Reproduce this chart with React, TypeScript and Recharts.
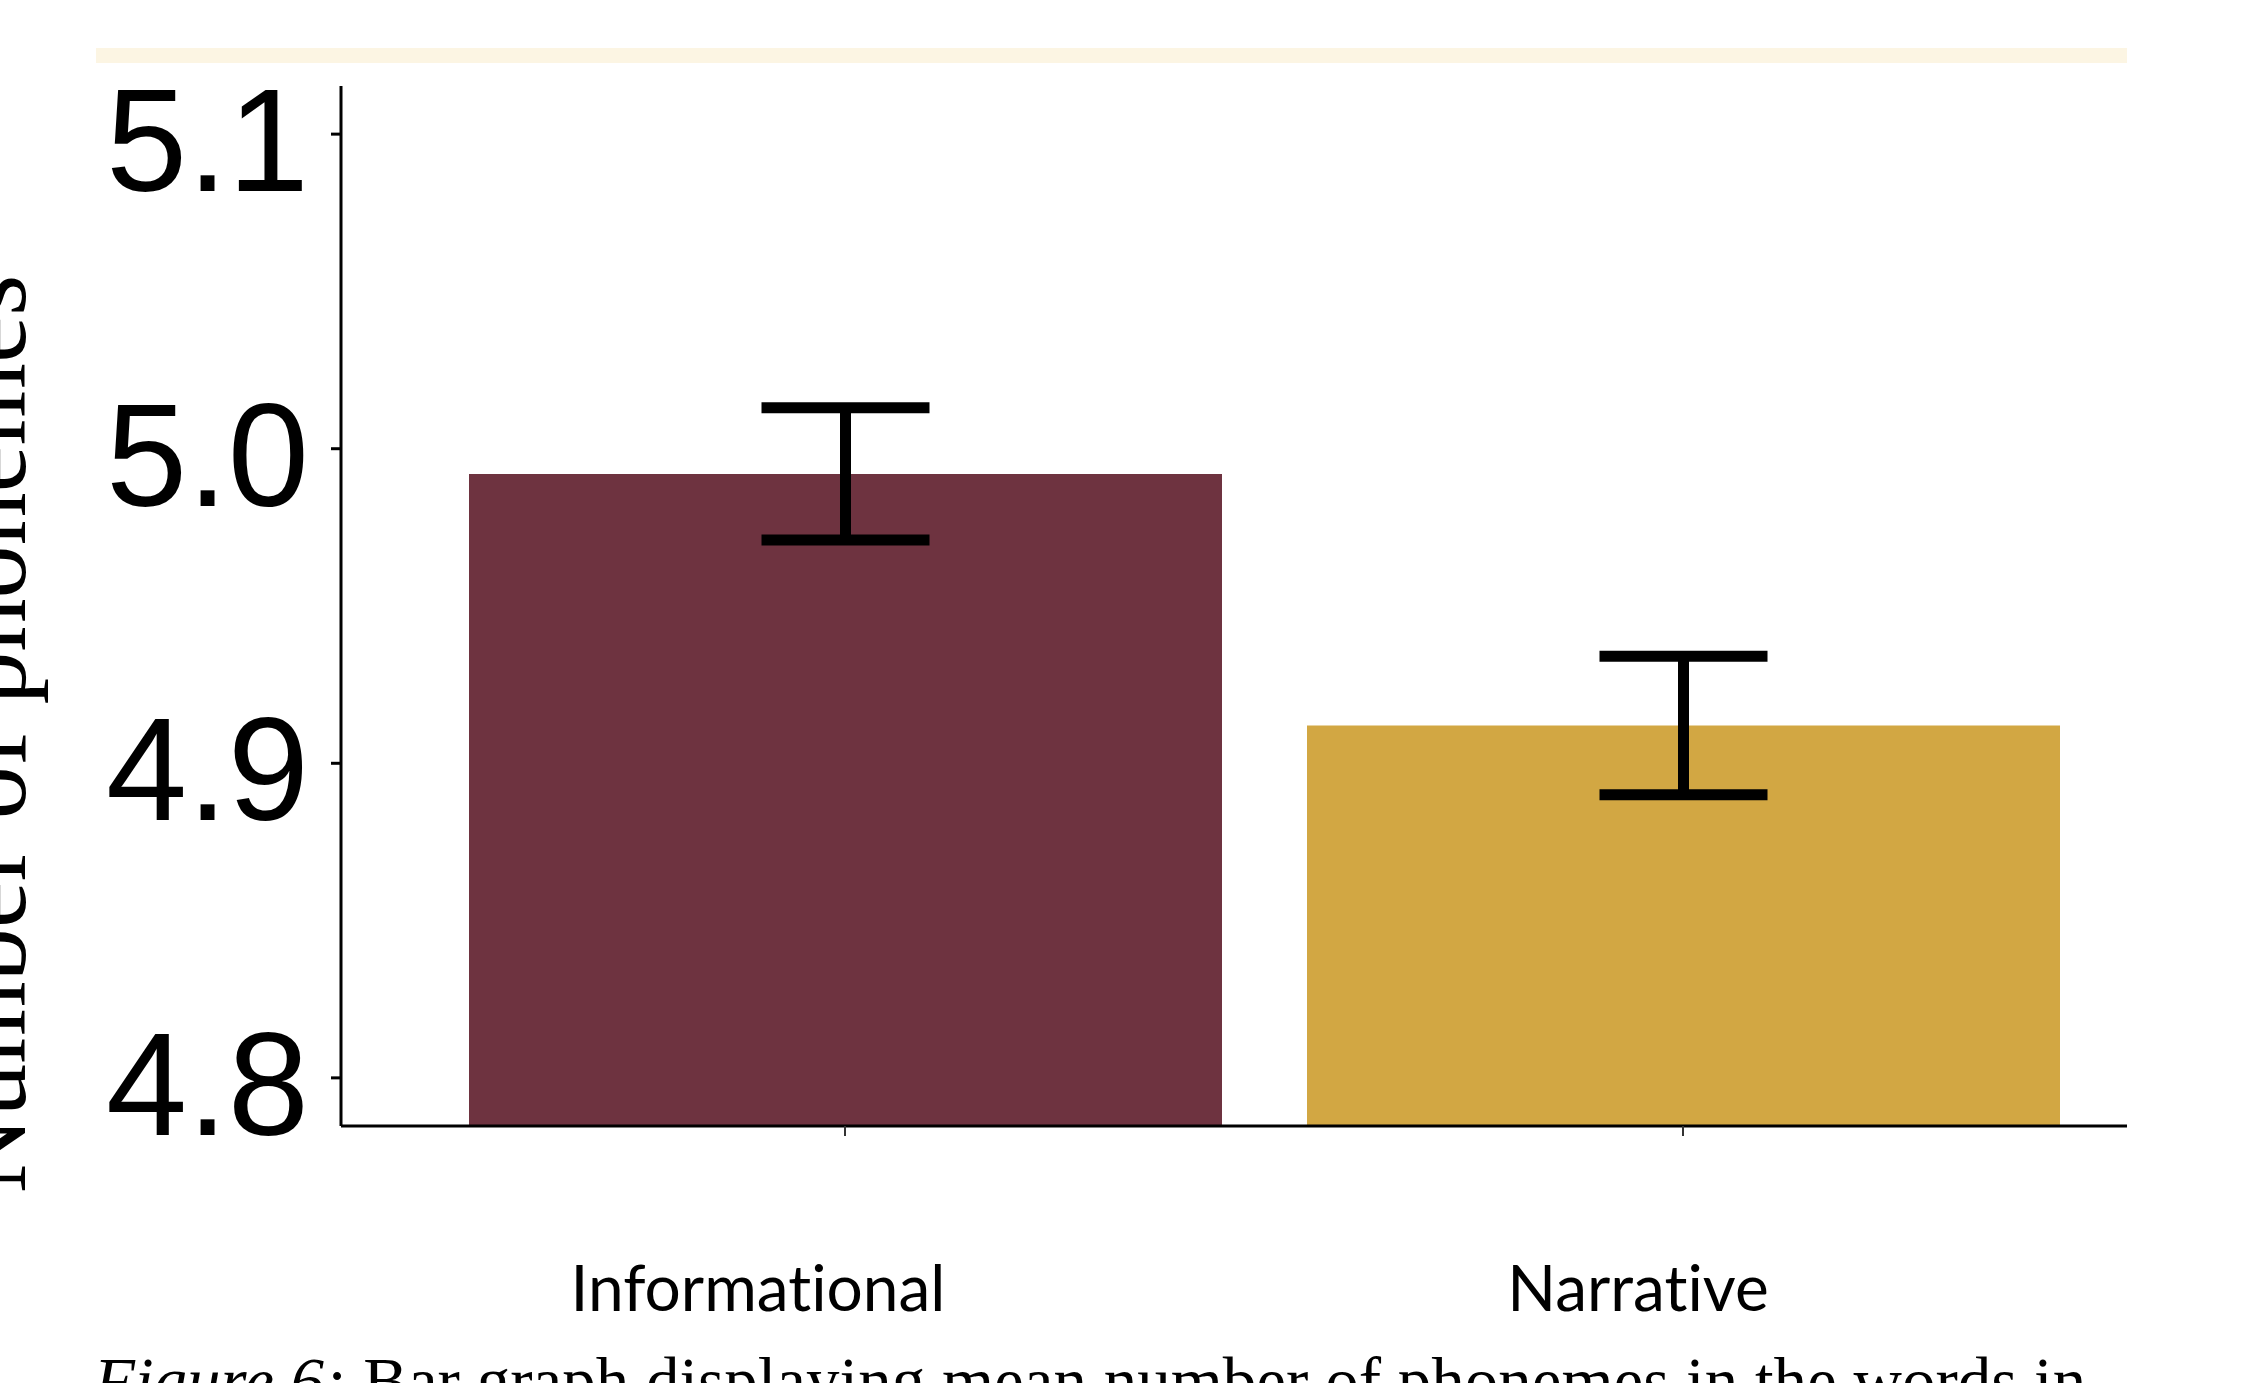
import React from 'react';
import { BarChart, Bar, XAxis, YAxis, ErrorBar, Cell } from 'recharts';

// Mean number of phonemes per word, by text genre
const categories = ['Informational', 'Narrative'];
const meanPhonemes = [4.992, 4.912];
const standardErrors = [0.021, 0.022];
const yTicks = [4.8, 4.9, 5.0, 5.1];
const yDomain = [4.7847, 5.1153];
const barColors = ['#6E3340', '#D2A743'];

const data = categories.map((name, i) => ({
  name,
  mean: meanPhonemes[i],
  err: standardErrors[i],
}));

const WIDTH = 2257;
const HEIGHT = 1383;

// horizontal nudge of each category label relative to its tick
const labelShift: Record<string, number> = { Informational: -87, Narrative: -45 };

const YTick = (props: any) => {
  const { x, y, payload } = props;
  return (
    <text
      x={x}
      y={y + 5}
      dy="0.355em"
      textAnchor="end"
      fill="#000"
      fontFamily="'Liberation Sans', Arial, sans-serif"
      fontSize={146}
    >
      {Number(payload.value).toFixed(1)}
    </text>
  );
};

const XTick = (props: any) => {
  const { x, y, payload } = props;
  return (
    <text
      x={x + (labelShift[payload.value] ?? 0)}
      y={y + 173}
      textAnchor="middle"
      fill="#000"
      fontFamily="Lato, 'Open Sans', sans-serif"
      fontSize={64}
      style={{ fontVariantLigatures: 'none' }}
    >
      {payload.value}
    </text>
  );
};

const YTitle = () => (
  <text
    x={25}
    y={734}
    transform="rotate(-90, 25, 734)"
    textAnchor="middle"
    fill="#000"
    fontFamily="'Liberation Serif', 'Times New Roman', serif"
    fontSize={106}
  >
    Number of phonemes
  </text>
);

export default function App() {
  return (
    <div
      style={{
        position: 'absolute',
        left: 0,
        top: 0,
        width: WIDTH,
        height: HEIGHT,
        background: '#fff',
        overflow: 'hidden',
      }}
    >
      <BarChart
        width={WIDTH}
        height={HEIGHT}
        data={data}
        margin={{ top: 86, right: 130, left: 0, bottom: 0 }}
        barSize={753}
      >
        <XAxis
          dataKey="name"
          height={257}
          padding={{ left: 85, right: 25 }}
          axisLine={{ stroke: '#000', strokeWidth: 3 }}
          tickLine={{ stroke: '#333', strokeWidth: 2 }}
          tickSize={10}
          tick={<XTick />}
          interval={0}
        />
        <YAxis
          type="number"
          width={341}
          domain={yDomain}
          ticks={yTicks}
          allowDataOverflow
          axisLine={{ stroke: '#000', strokeWidth: 3 }}
          tickLine={{ stroke: '#000', strokeWidth: 3 }}
          tickSize={10}
          tickMargin={22}
          tick={<YTick />}
          label={{ content: () => <YTitle /> }}
        />
        <Bar dataKey="mean" isAnimationActive={false}>
          {data.map((d, i) => (
            <Cell key={d.name} fill={barColors[i]} />
          ))}
          <ErrorBar dataKey="err" width={84} strokeWidth={11} stroke="#000" />
        </Bar>
      </BarChart>
      <svg
        width={WIDTH}
        height={HEIGHT}
        style={{ position: 'absolute', left: 0, top: 0, pointerEvents: 'none' }}
      >
        <rect x={96} y={48} width={2031} height={15} fill="#FCF5E3" />
        <text
          x={94}
          y={1404}
          fill="#000"
          fontFamily="'Liberation Serif', 'Times New Roman', serif"
          fontSize={67}
        >
          <tspan fontStyle="italic">Figure 6:</tspan>
          {' Bar graph displaying mean number of phonemes in the words in'}
        </text>
      </svg>
    </div>
  );
}
